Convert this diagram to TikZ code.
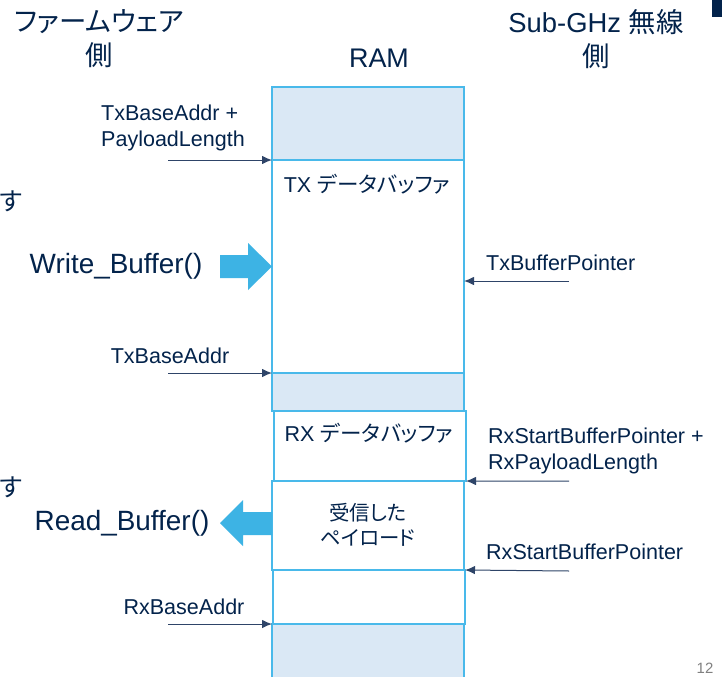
\documentclass[tikz,border=0pt]{standalone}
\usepackage{fontspec}
\setmainfont{Liberation Sans}
\newfontfamily\jp[RawFeature=+palt]{Noto Sans CJK JP}
\usetikzlibrary{arrows.meta}
\definecolor{navy}{HTML}{03234B}
\definecolor{memline}{HTML}{49B9EA}
\definecolor{memfill}{HTML}{DAE8F5}
\definecolor{blockblue}{HTML}{3DB3E4}
\definecolor{ptrline}{HTML}{2E4468}
\tikzset{
  mem/.style={draw=memline, line width=1.8bp, inner sep=0pt, outer sep=0pt, minimum width=192bp, anchor=north west},
  shaded/.style={mem, fill=memfill},
  plain/.style={mem, fill=white},
  lbl/.style={text=navy, inner sep=0pt, font=\fontsize{21.6}{25.5}\selectfont},
  big/.style={text=navy, inner sep=0pt, font=\fontsize{27.5}{34}\selectfont},
  ptr/.style={draw=ptrline, line width=1bp, -{Latex[length=10bp,width=8.5bp]}},
  blockarrow/.style={fill=blockblue, draw=none}
}
\begin{document}
\begin{tikzpicture}[x=1bp, y=-1bp]
\useasboundingbox (0,0) rectangle (722,677);
\fill[white] (0,0) rectangle (722,677);

% memory regions
\node[shaded, minimum height=73bp] (r1) at (272,87) {};
\node[plain, minimum height=213bp] (r2) at (272,160) {};
\node[shaded, minimum height=38bp] (r3) at (272,373) {};
\node[shaded, minimum height=60bp] (r7) at (272,624) {};
\node[plain, minimum height=54bp] (r6) at (273,570) {};
\node[plain, minimum height=89bp] (r5) at (272,481) {};
\node[plain, minimum height=70bp] (r4) at (274,411) {};

% region labels
\node[lbl] (txbuf) at (367,184) {TX {\jp データバッファ}};
\node[lbl] (rxbuf) at (369,433) {RX {\jp データバッファ}};
\node[lbl, align=center, font=\fontsize{20.5}{25}\selectfont] (payload) at (368,525) {{\jp 受信した}\\{\jp ペイロード}};

% titles
\node[big, align=center] (fw) at (99,39) {{\jp ファームウェア}\\{\jp 側}};
\node[big, align=center] (rf) at (596,39) {Sub-GHz {\jp 無線}\\{\jp 側}};
\node[big, font=\fontsize{27}{32}\selectfont] (ram) at (379,58) {RAM};

% text continuing beyond the left edge
\node[big, anchor=west, font=\fontsize{25}{30}\selectfont\jp] (su1) at (0,201) {す};
\node[big, anchor=west, font=\fontsize{25}{30}\selectfont\jp] (su2) at (0,487) {す};

% left pointers
\coordinate (l1) at (168,160);
\coordinate (l2) at (168,373);
\coordinate (l3) at (168,624);
\draw[ptr] (l1) -- (r2.north west);
\draw[ptr] (l2) -- (r3.north west);
\draw[ptr] (l3) -- (r7.north west);
\node[lbl, anchor=west, align=left] (t1) at (101,128) {TxBaseAddr +\\PayloadLength};
\node[lbl] (t2) at (170,356) {TxBaseAddr};
\node[lbl] (t3) at (184,607) {RxBaseAddr};

% right pointers
\coordinate (q1) at (569,281);
\coordinate (q2) at (569,481);
\coordinate (q3) at (569,571);
\draw[ptr] (q1) -- (r2.east |- q1);
\draw[ptr] (q2) -- (r4.south east);
\draw[ptr] (q3) -- (r6.north east);
\node[lbl, anchor=west] (u1) at (486,263) {TxBufferPointer};
\node[lbl, anchor=west, align=left] (u2) at (488,451) {RxStartBufferPointer +\\RxPayloadLength};
\node[lbl, anchor=west] (u3) at (486,552) {RxStartBufferPointer};

% function calls with block arrows
\node[big, font=\fontsize{28}{33}\selectfont] (wb) at (116,266) {Write\_Buffer()};
\node[big, font=\fontsize{28}{33}\selectfont] (rb) at (122,523) {Read\_Buffer()};
\fill[blockarrow] (220,255) -- (248,255) -- (248,243) -- (r2.west) -- (248,290) -- (248,278) -- (220,278) -- cycle;
\fill[blockarrow] (272,512) -- (243,512) -- (243,500) -- (220,523) -- (243,546) -- (243,535) -- (272,535) -- cycle;

% page decorations
\fill[navy] (712,0) rectangle (722,17);
\node[text=gray, inner sep=0pt, font=\fontsize{15}{18}\selectfont] (pg) at (705,668) {12};
\end{tikzpicture}
\end{document}
